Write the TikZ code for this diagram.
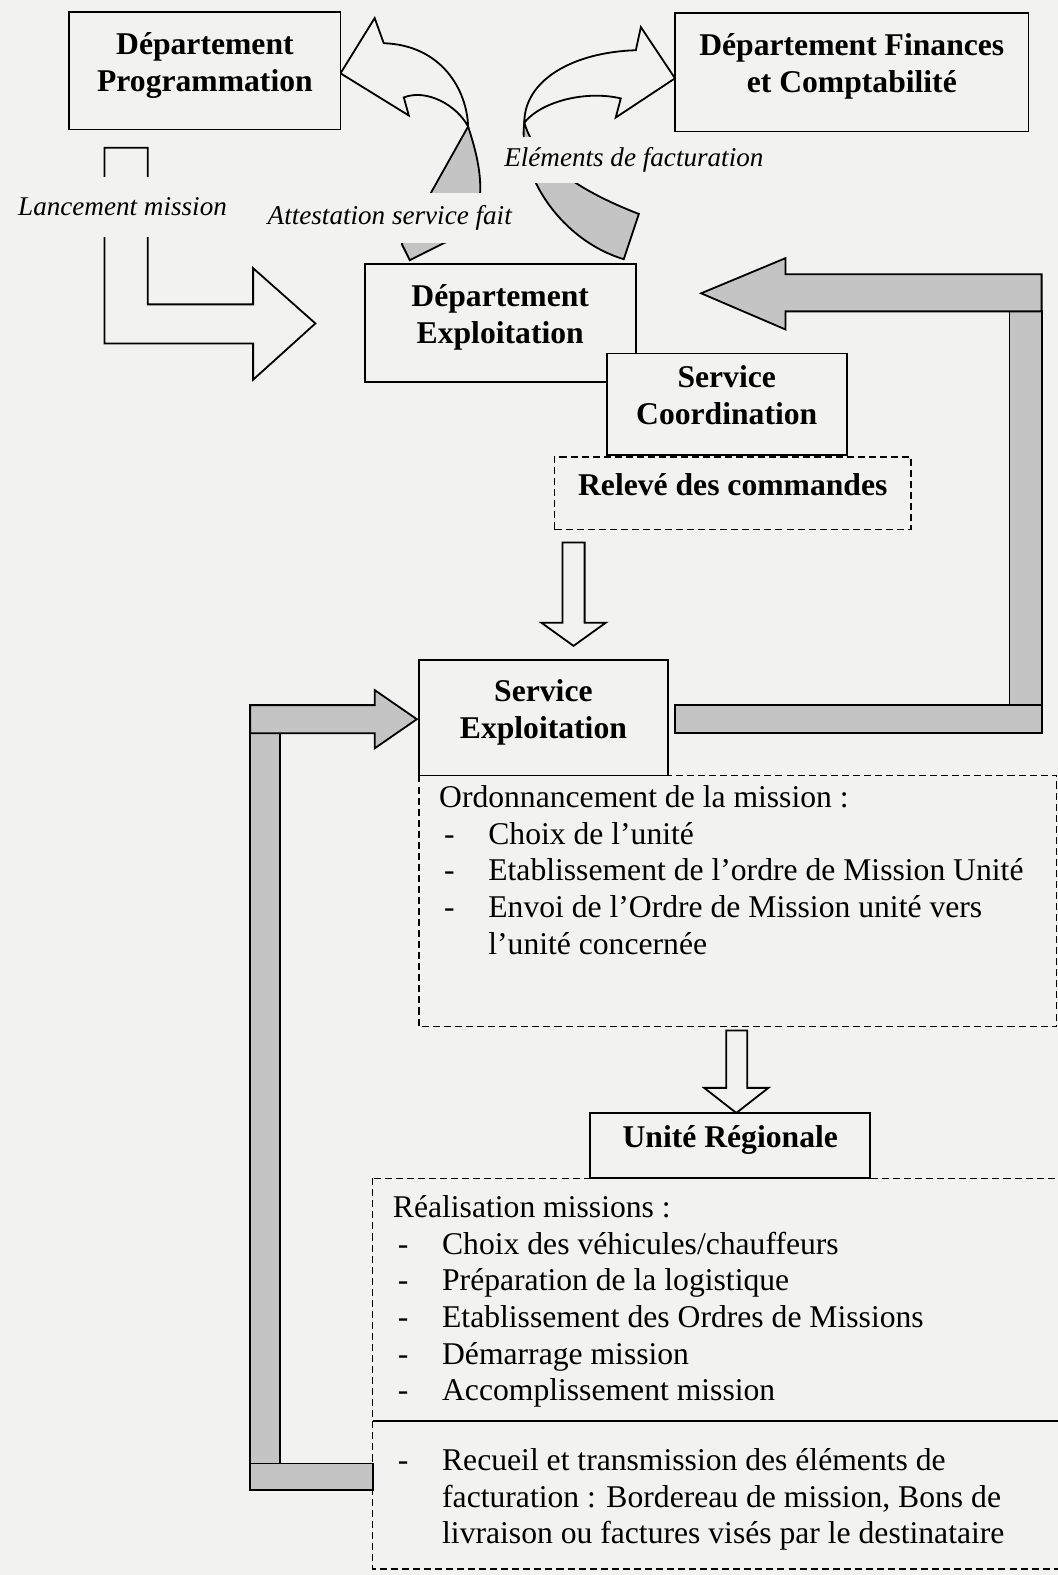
\documentclass[tikz,border=0pt]{standalone}
\usepackage{fontspec}
\setmainfont{Liberation Serif}
\definecolor{paper}{RGB}{242,242,240}
\definecolor{shade}{RGB}{196,196,196}
\newcommand\itm[1]{\hspace*{5pt}\makebox[44pt][l]{-}#1}
\newcommand\cnt[1]{\hspace*{49pt}#1}

\begin{document}
\begin{tikzpicture}[x=1pt,y=1pt,yscale=-1,
  box/.style={draw, line width=1.8, fill=paper, align=center, inner sep=0pt, text depth=18pt, font=\fontsize{31.5}{37}\selectfont\bfseries},
  dbox/.style={draw, line width=1.4, dash pattern={on 7pt off 4pt}},
  lbl/.style={fill=paper, inner sep=2pt, font=\fontsize{27}{30}\selectfont\itshape},
  list/.style={anchor=north west, inner sep=0pt, align=left, font=\fontsize{31.5}{36.5}\selectfont},
  white arrow/.style={draw, line width=1.8, fill=paper, line join=miter},
  gray arrow/.style={draw, line width=1.8, fill=shade, line join=miter}]
\path [use as bounding box, fill=paper] (0,0) rectangle (1053,1568);

%Shape: Rectangle [dashed, ordonnancement]
\draw [dbox] (417,772) rectangle (1052,1022);
%Shape: Rectangle [dashed, realisation]
\draw [dbox] (371,1173) rectangle (1075,1562);
\draw [line width=1.8] (371,1415) -- (1060,1415);

%Curved Arrow [attestation]
\draw [gray arrow] (466,126) .. controls (474,150) and (479,172) .. (478,192) .. controls (477,215) and (462,235) .. (442,242) -- (408,259) -- (400,243) -- (429,192) -- cycle;
\draw [white arrow] (339,73) -- (373,18) -- (382,43) .. controls (440,45) and (465,90) .. (466,126) .. controls (455,105) and (425,88) .. (402,97) -- (407,115) -- cycle;
%Curved Arrow [facturation]
\draw [gray arrow] (522,122) .. controls (515,175) and (560,240) .. (621,258) -- (636,213) .. controls (600,199) and (535,170) .. cycle;
\draw [white arrow] (522,122) .. controls (522,80) and (570,52) .. (633,50) -- (638,27) -- (672,78) -- (613,117) -- (618,98) .. controls (585,90) and (540,100) .. cycle;

%Bent Arrow [lancement]
\draw [white arrow] (104,147) -- (147,147) -- (147,303) -- (252,303) -- (252,267) -- (314,322) -- (252,378) -- (252,342) -- (104,342) -- cycle;
%Bent Arrow [retour exploitation]
\draw [gray arrow] (1005,310) rectangle (1037,702);
\draw [gray arrow] (1037,273) -- (1037,310) -- (782,310) -- (782,328) -- (698,292) -- (782,257) -- (782,273) -- cycle;
\draw [gray arrow] (672,702) rectangle (1037,730);
%Bent Arrow [retour facturation]
\draw [gray arrow] (249,730) rectangle (279,1457);
\draw [gray arrow] (249,702) -- (373,702) -- (373,687) -- (415,716) -- (373,745) -- (373,730) -- (249,730) -- cycle;
\draw [gray arrow] (249,1457) rectangle (371,1483);
%Down Arrows
\draw [white arrow] (560,540) -- (582,540) -- (582,620) -- (603,620) -- (571,643) -- (539,620) -- (560,620) -- cycle;
\draw [white arrow] (723,1026) -- (744,1026) -- (744,1083) -- (765,1083) -- (733,1108) -- (701,1083) -- (723,1083) -- cycle;

% Text Node
\node [lbl, minimum height=60] (lancement) at (122,206) {Lancement mission};
% Text Node
\node [lbl, minimum height=50] (attestation) at (388,217) {Attestation service fait};
% Text Node
\node [lbl, minimum height=46] (facturation) at (631,159) {Eléments de facturation};

% Text Node
\node [box, minimum width=270, minimum height=117] (prog) at (204,70.5) {Département\\Programmation};
% Text Node
\node [box, minimum width=352, minimum height=118] (fin) at (848,72) {Département Finances\\et Comptabilité};
% Text Node
\node [box, minimum width=270, minimum height=117] (exploit) at (498,321.5) {Département\\Exploitation};
% Text Node
\node [box, minimum width=239, minimum height=101] (coord) at (723.5,402.5) {Service\\Coordination};
% Text Node
\node [box, dbox, minimum width=355, minimum height=72] (releve) at (729.5,491) {Relevé des commandes};
% Text Node
\node [box, minimum width=248, minimum height=115] (servexp) at (541,714.5) {Service\\Exploitation};
% Text Node
\node [box, minimum width=279, minimum height=65] (unite) at (727,1140.5) {Unité Régionale};

% Text Node
\node [list] (ordo) at (437,782) {Ordonnancement de la mission :\\
\itm{Choix de l’unité}\\
\itm{Etablissement de l’ordre de Mission Unité}\\
\itm{Envoi de l’Ordre de Mission unité vers}\\
\cnt{l’unité concernée}};
% Text Node
\node [list] (realis) at (391,1190) {Réalisation missions :\\
\itm{Choix des véhicules/chauffeurs}\\
\itm{Préparation de la logistique}\\
\itm{Etablissement des Ordres de Missions}\\
\itm{Démarrage mission}\\
\itm{Accomplissement mission}};
% Text Node
\node [list] (recueil) at (391,1442) {\itm{Recueil et transmission des éléments de}\\
\cnt{facturation : Bordereau de mission, Bons de}\\
\cnt{livraison ou factures visés par le destinataire}};

\end{tikzpicture}
\end{document}
